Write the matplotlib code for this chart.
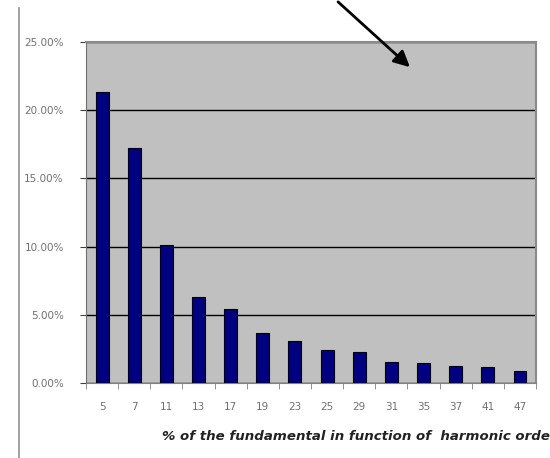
import matplotlib
matplotlib.use("Agg")
import matplotlib.pyplot as plt
import numpy as np

# harmonic orders and % of fundamental
orders = ["5", "7", "11", "13", "17", "19", "23", "25", "29", "31", "35", "37", "41", "47"]
percent = [21.3, 17.2, 10.1, 6.3, 5.4, 3.7, 3.1, 2.4, 2.3, 1.55, 1.45, 1.25, 1.15, 0.85]
yticks = [0, 5, 10, 15, 20, 25]

fig = plt.figure(figsize=(5.5, 4.58), dpi=100)
fig.patch.set_facecolor("white")

# thin vertical rule on the left of the slide
fig.add_artist(plt.Line2D([19/550, 19/550], [0, 1 - 8/458], color="#909090", lw=1.2))

ax = fig.add_axes([86/550, 75/458, 450/550, 341/458])
ax.set_facecolor("#c0c0c0")

x = np.arange(len(orders))
ax.bar(x, percent, width=0.40, color="#000080", edgecolor="black", linewidth=0.8, zorder=3)

ax.set_xlim(-0.5, len(orders) - 0.5)
ax.set_ylim(0, 25)
ax.set_yticks(yticks)
ax.set_yticklabels(["%.2f%%" % v for v in yticks], fontsize=7.5, color="#707070")
ax.yaxis.grid(True, color="black", linewidth=1, zorder=1)

ax.set_xticks(x)
ax.set_xticklabels(orders, fontsize=7.5, color="#707070")
ax.tick_params(axis="x", length=0, pad=14)
# tick marks between categories
ax.set_xticks(np.arange(-0.5, len(orders), 1), minor=True)
ax.tick_params(axis="x", which="minor", length=4, color="#808080")
ax.tick_params(axis="y", length=4, color="#404040", pad=12)

for s in ["top", "right"]:
    ax.spines[s].set_color("#8a8a8a")
    ax.spines[s].set_linewidth(1.5)
ax.spines["left"].set_color("#707070")
ax.spines["bottom"].set_color("#808080")

fig.text(162/550, 1 - 437/458, "% of the fundamental in function of  harmonic orde",
         fontsize=9.6, fontweight="bold", fontstyle="italic", color="#222222",
         ha="left", va="center")

# arrow pointing into the chart
fig.add_artist(matplotlib.patches.FancyArrowPatch(
    (336/550, 1.0), (412/550, 1 - 69/458), transform=fig.transFigure,
    arrowstyle="-|>", mutation_scale=24, lw=2.0, color="black"))

fig.savefig("out.png", dpi=100)
